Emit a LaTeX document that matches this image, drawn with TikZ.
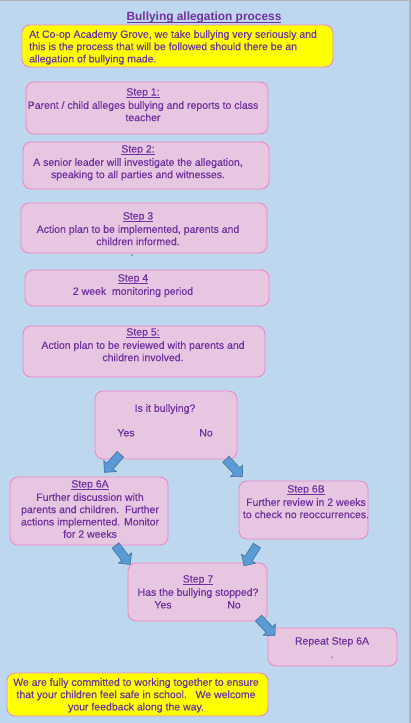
\documentclass[tikz,border=0pt]{standalone}
\usepackage{fontspec}
\setmainfont{Liberation Sans}
\newfontfamily\stepfont[FakeBold=0.35]{Liberation Sans}
\usetikzlibrary{shapes.arrows}
\definecolor{pagebg}{RGB}{189,215,238}
\definecolor{boxfill}{RGB}{230,198,225}
\definecolor{boxline}{RGB}{240,135,200}
\definecolor{notefill}{RGB}{255,255,0}
\definecolor{textpurple}{RGB}{112,48,160}
\definecolor{arrowfill}{RGB}{91,155,213}
\definecolor{arrowline}{RGB}{65,113,156}
\newcommand\stepul[1]{\setbox0\hbox{#1}\rlap{\vrule height -1.3pt depth 2pt width \wd0}\box0}
\tikzset{
  stepbox/.style={draw=boxline, fill=boxfill, rounded corners=8pt, line width=0.9pt, inner sep=0pt},
  notebox/.style={stepbox, fill=notefill},
  steptext/.style={text=textpurple, font=\stepfont\fontsize{10.5}{12.3}\selectfont, align=center, inner sep=0pt, anchor=north},
  blockarrow/.style={single arrow, draw=arrowline, fill=arrowfill, line width=0.6pt,
    inner xsep=0pt, inner ysep=4pt, single arrow head extend=4pt, minimum height=24pt,
    sloped, allow upside down, midway}
}
\begin{document}
\begin{tikzpicture}[x=1pt,y=-1pt]
  \useasboundingbox (0,0) rectangle (410,723);
  \fill[pagebg] (0,0) rectangle (410,723);
  \draw[gray!60, line width=2pt] (0,0) -- (410,0) -- (410,723);
  % title and boxes
  \node[steptext, anchor=base, font=\bfseries\fontsize{11.9}{14}\selectfont] (title) at (204,20.5) {\stepul{Bullying allegation process}};
  \node[notebox, minimum width=311pt, minimum height=42pt] (intro) at (177.5,46) {};
  \node[stepbox, minimum width=242pt, minimum height=52pt] (s1) at (147,108) {};
  \node[stepbox, minimum width=246pt, minimum height=47pt] (s2) at (146,165.5) {};
  \node[stepbox, minimum width=246pt, minimum height=50pt] (s3) at (144,228) {};
  \node[stepbox, minimum width=244pt, minimum height=36pt] (s4) at (147,288) {};
  \node[stepbox, minimum width=242pt, minimum height=51pt] (s5) at (144,351.5) {};
  \node[stepbox, minimum width=142pt, minimum height=68pt] (q1) at (166,425) {};
  \node[stepbox, minimum width=158pt, minimum height=68pt] (s6a) at (89,511) {};
  \node[stepbox, minimum width=129pt, minimum height=58pt] (s6b) at (303.5,510) {};
  \node[stepbox, minimum width=139pt, minimum height=58pt] (s7) at (197.5,592) {};
  \node[stepbox, minimum width=129pt, minimum height=38pt] (rep) at (332.5,647) {};
  \node[notebox, minimum width=261pt, minimum height=43pt] (outro) at (137.5,694.5) {};
  % texts
  \node[steptext, anchor=north west, align=left] (introtxt) at (29,30) {At Co-op Academy Grove, we take bullying very seriously and\\this is the process that will be followed should there be an\\allegation of bullying made.};
  \node[steptext] (s1txt) at (143,88) {\stepul{Step 1:}\\[1pt]Parent / child alleges bullying and reports to class\\teacher};
  \node[steptext] (s2txt) at (138,145) {\stepul{Step 2:}\\[1pt]A senior leader will investigate the allegation,\\speaking to all parties and witnesses.};
  \node[steptext] (s3txt) at (138,212) {\stepul{Step 3}\\[1pt]Action plan to be implemented, parents and\\children informed.};
  \node[steptext, text=gray] (dot) at (132,254.5) {.};
  \node[steptext] (s4txt) at (133,274) {\stepul{Step 4}\\[1pt]2 week\ \ monitoring period};
  \node[steptext] (s5txt) at (143,328) {\stepul{Step 5:}\\[1pt]Action plan to be reviewed with parents and\\children involved.};
  \node[steptext] (q1txt) at (165,404) {Is it bullying?};
  \node[steptext] (q1yes) at (126,429) {Yes};
  \node[steptext] (q1no) at (206,429) {No};
  \node[steptext] (s6atxt) at (90,480) {\stepul{Step 6A}\\[1pt]Further discussion with\\parents and children.\ \ Further\\actions implemented. Monitor\\for 2 weeks};
  \node[steptext] (s6btxt) at (306,485) {\stepul{Step 6B}\\[1pt]Further review in 2 weeks\\to check no reoccurrences.};
  \node[steptext] (s7txt) at (198,575) {\stepul{Step 7}\\[1pt]Has the bullying stopped?};
  \node[steptext] (s7yes) at (163,601) {Yes};
  \node[steptext] (s7no) at (234,601) {No};
  \node[steptext] (reptxt) at (332,637) {Repeat Step 6A\\[1pt]{\color{gray}.}};
  \node[steptext] (outrotxt) at (136,678) {We are fully committed to working together to ensure\\that your children feel safe in school.\ \ \ We welcome\\your feedback along the way.};
  % block arrows
  \coordinate (yesA) at (121.7,452.7);  \coordinate (yesB) at (106,470.7);
  \coordinate (noA) at (224,457.3);     \coordinate (noB) at (241.3,475.7);
  \coordinate (aA) at (114.3,544);      \coordinate (aB) at (128.7,562.7);
  \coordinate (bA) at (258.3,543.3);    \coordinate (bB) at (245,564.3);
  \coordinate (rA) at (257.3,616.7);    \coordinate (rB) at (273.3,634);
  \path (yesA) -- (yesB) node[blockarrow] (arryes) {};
  \path (noA) -- (noB) node[blockarrow] (arrno) {};
  \path (aA) -- (aB) node[blockarrow] (arra) {};
  \path (bA) -- (bB) node[blockarrow] (arrb) {};
  \path (rA) -- (rB) node[blockarrow] (arrrep) {};
\end{tikzpicture}
\end{document}
